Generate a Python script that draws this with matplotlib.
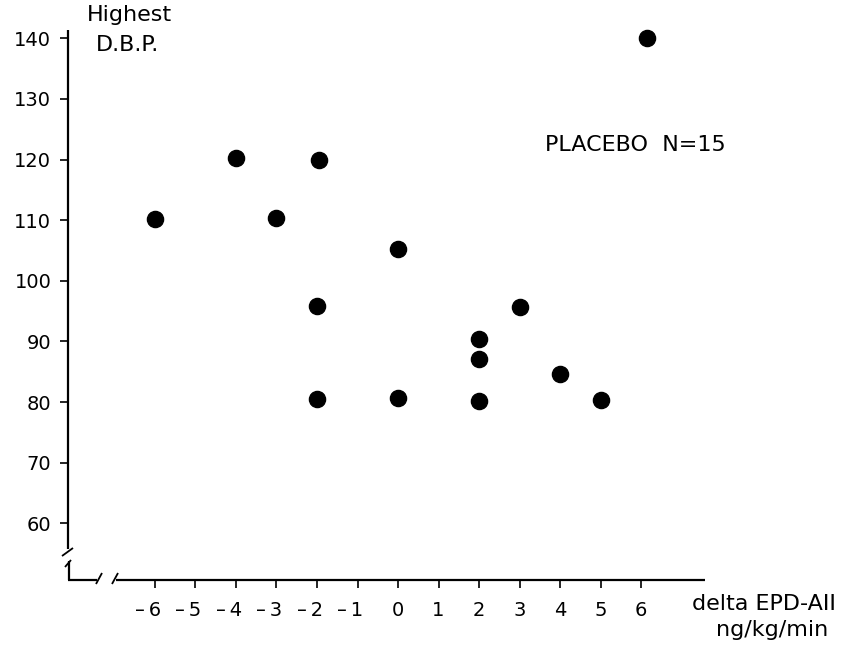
import matplotlib.pyplot as plt
import matplotlib.transforms as mtransforms

plt.rcParams['font.family'] = ['DejaVu Sans']

# points
delta_epd = [-6, -4, -3, -1.95, -2, -2, 0, 0, 2, 2, 2, 3, 4, 5, 6.15]
highest_dbp = [110.2, 120.3, 110.4, 120.0, 95.8, 80.5, 105.2, 80.7, 90.4, 87.1, 80.2, 95.7, 84.6, 80.3, 140.0]

x_ticks = [-6, -5, -4, -3, -2, -1, 0, 1, 2, 3, 4, 5, 6]
x_labels = ['\u2013\u20096', '\u2013\u20095', '\u2013\u20094', '\u2013\u20093', '\u2013\u20092', '\u2013\u20091',
            '0', '1', '2', '3', '4', '5', '6']
y_ticks = [60, 70, 80, 90, 100, 110, 120, 130, 140]

W, H = 865, 651
fig = plt.figure(figsize=(W / 100, H / 100), dpi=100)
# axes box in pixels: left 68, right 705, top 35, bottom 580
ax = fig.add_axes([68 / W, (H - 580) / H, (705 - 68) / W, (580 - 35) / H])

ax.scatter(delta_epd, highest_dbp, s=135, color='black', zorder=3, clip_on=False)

ax.set_xlim(-8.148, 7.58)
ax.set_ylim(50.63, 140.56)

for s in ax.spines.values():
    s.set_visible(False)

def px(x, y):
    return (x - 68) / 637, (580 - y) / 545

def seg(p0, p1, lw=1.6):
    (x0, y0), (x1, y1) = px(*p0), px(*p1)
    ax.plot([x0, x1], [y0, y1], color='black', lw=lw, transform=ax.transAxes,
            clip_on=False, solid_capstyle='butt')

# left axis with break
seg((68, 30), (68, 549))
seg((62, 556), (73, 548), 1.3)
seg((65, 567), (71, 560), 1.3)
seg((69, 561), (69, 580))
# bottom axis with break
seg((68, 580), (97, 580))
seg((96, 584), (102, 573), 1.3)
seg((112, 584), (118, 573), 1.3)
seg((116, 580), (705, 580))

ax.set_xticks(x_ticks)
ax.set_xticklabels(x_labels)
ax.set_yticks(y_ticks)
ax.set_yticklabels([str(v) for v in y_ticks])
ax.tick_params(axis='both', direction='out', length=6, width=1.2, labelsize=14)
ax.tick_params(axis='x', pad=9)
ax.tick_params(axis='y', pad=6)

off = mtransforms.ScaledTranslation(6 / 100, 0, fig.dpi_scale_trans)
for lab in ax.get_xticklabels():
    lab.set_horizontalalignment('right')
    lab.set_transform(lab.get_transform() + off)

fig.text(129 / W, 1 - 15 / H, 'Highest', fontsize=16, ha='center', va='center')
fig.text(128 / W, 1 - 45 / H, 'D.B.P.', fontsize=16, ha='center', va='center')
fig.text(635 / W, 1 - 145 / H, 'PLACEBO  N=15', fontsize=16, ha='center', va='center')
fig.text(764 / W, 1 - 604 / H, 'delta EPD-AII', fontsize=16, ha='center', va='center')
fig.text(772 / W, 1 - 630 / H, 'ng/kg/min', fontsize=16, ha='center', va='center')

fig.savefig('out.png', dpi=100)
